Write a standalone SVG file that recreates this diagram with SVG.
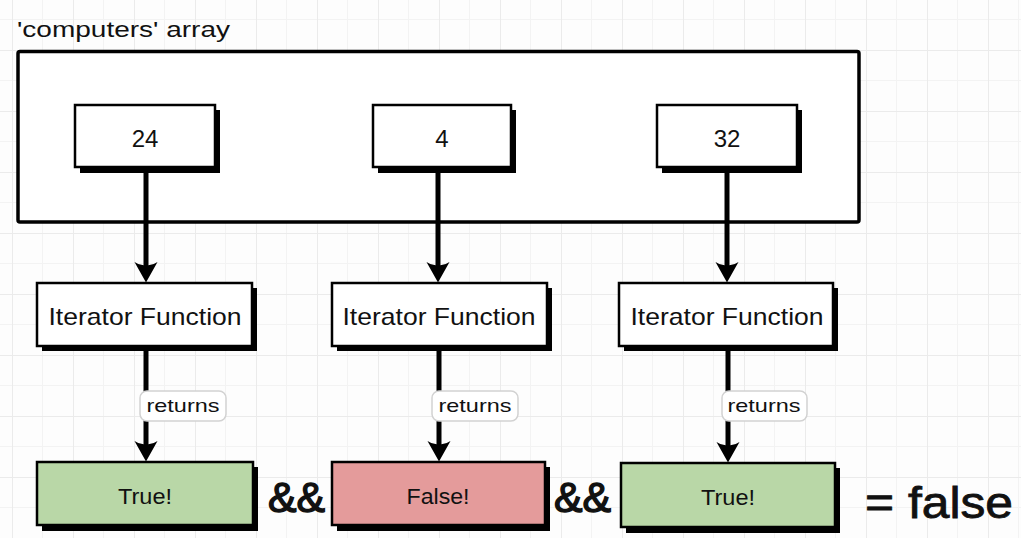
<svg xmlns="http://www.w3.org/2000/svg" width="1021" height="538" viewBox="0 0 1021 538">
  <defs>
    <pattern id="grid" x="12" y="-11" width="61" height="61" patternUnits="userSpaceOnUse">
      <path d="M30.5 0V61M0 30.5H61" stroke="#f3f3f3" stroke-width="1" fill="none"/>
      <path d="M0.5 0V61M0 0.5H61" stroke="#ebebeb" stroke-width="1" fill="none"/>
    </pattern>
    <marker id="ah" viewBox="0 0 22 24" refX="11" refY="12" markerWidth="22" markerHeight="24" markerUnits="userSpaceOnUse" orient="auto">
      <path d="M1 0.5 Q5 6 4 12 Q5 18 1 23.5 L21.5 12 Z" fill="#000"/>
    </marker>
  </defs>
  <style>
    text { font-family: "Liberation Sans", Arial, sans-serif; fill: #111; }
    .shadow { fill: #000; }
    .box { fill: #fff; stroke: #000; stroke-width: 2.5; }
    .green { fill: #b9d7a7; stroke: #000; stroke-width: 2.5; }
    .red { fill: #e49b9b; stroke: #000; stroke-width: 2.5; }
    .val { font-size: 24px; text-anchor: middle; }
    .fn { font-size: 24px; text-anchor: middle; }
    .res { font-size: 22px; text-anchor: middle; }
    .pill { fill: #fff; stroke: #d2d2d2; stroke-width: 1.5; }
    .lbl { font-size: 19px; text-anchor: middle; }
    .conn { stroke: #000; stroke-width: 5; fill: none; marker-end: url(#ah); }
    .op { font-size: 42px; stroke: #111; stroke-width: 1.4; }
    .eq { font-size: 44px; stroke: #111; stroke-width: 0.8; }
  </style>

  <rect x="0" y="0" width="1021" height="538" fill="#fdfdfd"/>
  <rect x="0" y="0" width="1021" height="538" fill="url(#grid)"/>

  <g id="array">
    <text x="17" y="37" font-size="22" textLength="213" lengthAdjust="spacingAndGlyphs">'computers' array</text>
    <rect x="18" y="51.5" width="841" height="170.5" rx="2" fill="#fff" stroke="#000" stroke-width="3.5"/>
  </g>

  <g id="v24">
    <rect class="shadow" x="80" y="110" width="140" height="63"/>
    <rect class="box" x="75" y="105" width="140" height="62"/>
    <text class="val" x="145" y="147">24</text>
  </g>
  <g id="v4">
    <rect class="shadow" x="378" y="110" width="138" height="63"/>
    <rect class="box" x="373" y="105" width="138" height="62"/>
    <text class="val" x="442" y="147">4</text>
  </g>
  <g id="v32">
    <rect class="shadow" x="662" y="110" width="140" height="63"/>
    <rect class="box" x="657" y="105" width="140" height="62"/>
    <text class="val" x="727" y="147">32</text>
  </g>

  <g id="connectors">
    <line class="conn" x1="146" y1="170" x2="146" y2="272"/>
    <line class="conn" x1="438" y1="170" x2="438" y2="272"/>
    <line class="conn" x1="727" y1="170" x2="727" y2="272"/>
    <line class="conn" x1="146" y1="348" x2="146" y2="451"/>
    <line class="conn" x1="439" y1="348" x2="439" y2="451"/>
    <line class="conn" x1="728" y1="348" x2="728" y2="452"/>
  </g>

  <g id="labels">
    <rect class="pill" x="140" y="391" width="86" height="30" rx="7"/>
    <text class="lbl" x="183" y="412" textLength="73" lengthAdjust="spacingAndGlyphs">returns</text>
    <rect class="pill" x="432" y="391" width="86" height="30" rx="7"/>
    <text class="lbl" x="475" y="412" textLength="73" lengthAdjust="spacingAndGlyphs">returns</text>
    <rect class="pill" x="722" y="391" width="85" height="30" rx="7"/>
    <text class="lbl" x="764" y="412" textLength="73" lengthAdjust="spacingAndGlyphs">returns</text>
  </g>

  <g id="fn1">
    <rect class="shadow" x="42" y="288" width="215" height="63"/>
    <rect class="box" x="37" y="283" width="215" height="63"/>
    <text class="fn" x="145" y="325" textLength="193" lengthAdjust="spacingAndGlyphs">Iterator Function</text>
  </g>
  <g id="fn2">
    <rect class="shadow" x="337" y="288" width="215" height="63"/>
    <rect class="box" x="332" y="283" width="215" height="63"/>
    <text class="fn" x="439" y="325" textLength="193" lengthAdjust="spacingAndGlyphs">Iterator Function</text>
  </g>
  <g id="fn3">
    <rect class="shadow" x="624" y="288" width="214" height="63"/>
    <rect class="box" x="619" y="283" width="214" height="63"/>
    <text class="fn" x="727" y="325" textLength="193" lengthAdjust="spacingAndGlyphs">Iterator Function</text>
  </g>

  <g id="res1">
    <rect class="shadow" x="42" y="467" width="216" height="64"/>
    <rect class="green" x="37" y="462" width="216" height="63"/>
    <text class="res" x="145" y="504" textLength="54" lengthAdjust="spacingAndGlyphs">True!</text>
  </g>
  <g id="res2">
    <rect class="shadow" x="337" y="467" width="213" height="64"/>
    <rect class="red" x="332" y="462" width="213" height="63"/>
    <text class="res" x="438" y="504" textLength="63" lengthAdjust="spacingAndGlyphs">False!</text>
  </g>
  <g id="res3">
    <rect class="shadow" x="626" y="468" width="214" height="65"/>
    <rect class="green" x="621" y="463" width="214" height="64"/>
    <text class="res" x="728" y="505" textLength="54" lengthAdjust="spacingAndGlyphs">True!</text>
  </g>

  <g id="operators">
    <text class="op" x="268" y="512" textLength="57" lengthAdjust="spacingAndGlyphs">&amp;&amp;</text>
    <text class="op" x="554" y="512" textLength="57" lengthAdjust="spacingAndGlyphs">&amp;&amp;</text>
    <text class="eq" x="865" y="518" textLength="148" lengthAdjust="spacingAndGlyphs">= false</text>
  </g>
</svg>
